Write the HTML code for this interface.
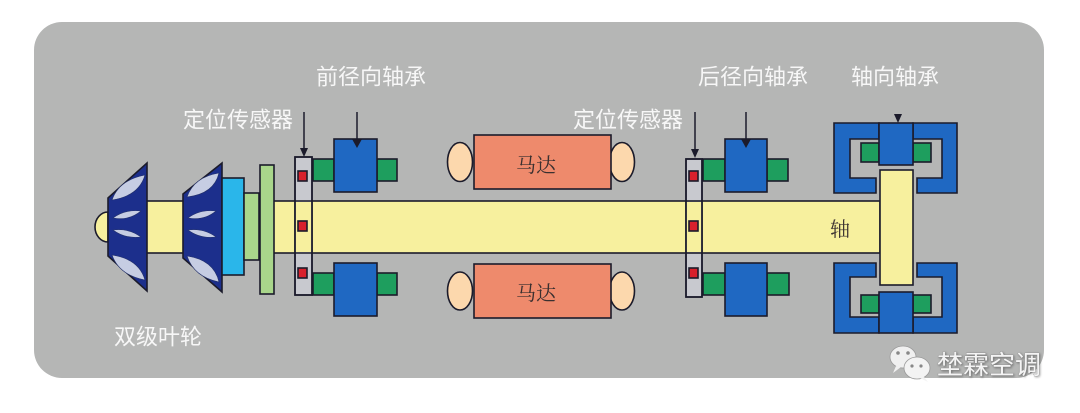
<!DOCTYPE html>
<html><head><meta charset="utf-8"><style>
html,body{margin:0;padding:0;background:#fff;}
svg{display:block;}
.lbl{font-family:"Liberation Sans","Noto Sans CJK SC",sans-serif;fill:#f7f7f7;font-size:22px;}
.dk{font-family:"Liberation Serif","Noto Serif CJK SC","Noto Sans CJK SC",serif;fill:#3a3030;font-size:20px;}
</style></head><body>
<svg width="1080" height="413" viewBox="0 0 1080 413" xmlns="http://www.w3.org/2000/svg">
<rect x="34" y="22" width="1010" height="356" rx="28" ry="28" fill="#b5b6b5"/>
<g stroke="#1b1b2b" stroke-width="1.6" stroke-linejoin="miter">
<rect x="140" y="201" width="740" height="52" fill="#f7f09e"/>
<path d="M108,212 A13,15 0 0 0 108,242 Z" fill="#f7f09e"/>
<polygon points="108,198 147,163 147,291 108,256" fill="#1c2f8c"/>
<polygon points="183,194 222,163 222,292 183,258" fill="#1c2f8c"/>
</g>
<g fill="#c6cde3" stroke="#22306a" stroke-width="0.6">
<path d="M112,200 Q119,180 145,175 Q139,196 112,200 Z"/>
<path d="M113,218 Q125,209 141,211 Q129,221 113,218 Z"/>
<path d="M113,230 Q129,228 141,237 Q125,239 113,230 Z"/>
<path d="M112,255 Q139,259 145,280 Q119,275 112,255 Z"/>
<path d="M187,197 Q194,177 219,173 Q214,194 187,197 Z"/>
<path d="M188,218 Q200,209 216,211 Q204,221 188,218 Z"/>
<path d="M188,230 Q204,228 216,237 Q200,239 188,230 Z"/>
<path d="M187,256 Q214,260 219,282 Q194,277 187,256 Z"/>
</g>
<g stroke="#1b1b2b" stroke-width="1.6">
<rect x="222" y="178" width="22" height="97" fill="#2ab6ea"/>
<rect x="244" y="193" width="15" height="67" fill="#a9d68b"/>
<rect x="260" y="165" width="14" height="129" fill="#a9d68b"/>
<rect x="295" y="157" width="17" height="138" fill="#c8c9cf"/>
<rect x="295.8" y="202" width="15.4" height="50" fill="#f7f09e" stroke="none"/>
<line x1="295" y1="201" x2="312" y2="201"/>
<line x1="295" y1="253" x2="312" y2="253"/>
<rect x="295" y="157" width="17" height="138" fill="none"/>
<rect x="298" y="171" width="9" height="10" fill="#d8202c"/>
<rect x="298" y="221" width="9" height="10" fill="#d8202c"/>
<rect x="298" y="268" width="9" height="10" fill="#d8202c"/>
<rect x="313" y="159" width="21" height="22" fill="#1e9e5e"/>
<rect x="377" y="159" width="20" height="22" fill="#1e9e5e"/>
<rect x="334" y="139" width="43" height="53" fill="#1f68c2"/>
<rect x="313" y="273" width="21" height="22" fill="#1e9e5e"/>
<rect x="377" y="273" width="20" height="22" fill="#1e9e5e"/>
<rect x="334" y="263" width="43" height="53" fill="#1f68c2"/>
<ellipse cx="460" cy="162" rx="12.5" ry="19.5" fill="#fcd8ad"/>
<ellipse cx="622" cy="162" rx="12.5" ry="19.5" fill="#fcd8ad"/>
<rect x="474" y="135" width="137" height="54" fill="#ee8a6c"/>
<ellipse cx="460" cy="291" rx="12.5" ry="19" fill="#fcd8ad"/>
<ellipse cx="622" cy="291" rx="12.5" ry="19" fill="#fcd8ad"/>
<rect x="474" y="264" width="137" height="54" fill="#ee8a6c"/>
<rect x="686" y="159" width="16" height="138" fill="#c8c9cf"/>
<rect x="686.8" y="202" width="14.4" height="50" fill="#f7f09e" stroke="none"/>
<line x1="686" y1="201" x2="702" y2="201"/>
<line x1="686" y1="253" x2="702" y2="253"/>
<rect x="686" y="159" width="16" height="138" fill="none"/>
<rect x="689" y="171" width="9" height="10" fill="#d8202c"/>
<rect x="689" y="221" width="9" height="10" fill="#d8202c"/>
<rect x="689" y="268" width="9" height="10" fill="#d8202c"/>
<rect x="703" y="159" width="22" height="22" fill="#1e9e5e"/>
<rect x="767" y="159" width="21" height="22" fill="#1e9e5e"/>
<rect x="725" y="139" width="42" height="53" fill="#1f68c2"/>
<rect x="703" y="273" width="22" height="22" fill="#1e9e5e"/>
<rect x="767" y="273" width="22" height="22" fill="#1e9e5e"/>
<rect x="725" y="263" width="42" height="53" fill="#1f68c2"/>
<path d="M834,123 H879 V139 H850 V178 H876 V193 H834 Z" fill="#1f68c2"/>
<path d="M957,123 H913 V139 H942 V178 H917 V193 H957 Z" fill="#1f68c2"/>
<path d="M834,333 H879 V317 H850 V277 H876 V263 H834 Z" fill="#1f68c2"/>
<path d="M957,333 H913 V317 H942 V277 H917 V263 H957 Z" fill="#1f68c2"/>
<rect x="861" y="143" width="18" height="19" fill="#1e9e5e"/>
<rect x="913" y="143" width="18" height="19" fill="#1e9e5e"/>
<rect x="861" y="295" width="18" height="18" fill="#1e9e5e"/>
<rect x="913" y="295" width="18" height="18" fill="#1e9e5e"/>
<rect x="879" y="123" width="34" height="42" fill="#1f68c2"/>
<rect x="879" y="292" width="34" height="41" fill="#1f68c2"/>
<rect x="880" y="170" width="33" height="115" fill="#f7f09e"/>
</g>
<g stroke="#1b1b2b" stroke-width="1.5" fill="#1b1b2b">
<line x1="304" y1="112" x2="304" y2="150"/>
<polygon points="300,148 308,148 304,157" stroke="none"/>
<line x1="357" y1="112" x2="357" y2="141"/>
<polygon points="352,139 362,139 357,148" stroke="none"/>
<line x1="695" y1="112" x2="695" y2="151"/>
<polygon points="691,149 699,149 695,158" stroke="none"/>
<line x1="746" y1="112" x2="746" y2="141"/>
<polygon points="741,139 751,139 746,148" stroke="none"/>
<polygon points="894,114 902,114 898,123" stroke="none"/>
</g>
<text class="lbl" x="238" y="120" text-anchor="middle" dominant-baseline="central">定位传感器</text>
<text class="lbl" x="371" y="77" text-anchor="middle" dominant-baseline="central">前径向轴承</text>
<text class="lbl" x="628" y="120" text-anchor="middle" dominant-baseline="central">定位传感器</text>
<text class="lbl" x="753" y="77" text-anchor="middle" dominant-baseline="central">后径向轴承</text>
<text class="lbl" x="895" y="77" text-anchor="middle" dominant-baseline="central">轴向轴承</text>
<text class="lbl" x="158" y="337" text-anchor="middle" dominant-baseline="central">双级叶轮</text>
<text class="dk" x="536" y="166" text-anchor="middle" dominant-baseline="central">马达</text>
<text class="dk" x="536" y="294" text-anchor="middle" dominant-baseline="central">马达</text>
<text class="dk" x="840" y="230" text-anchor="middle" dominant-baseline="central">轴</text>
<g>
<ellipse cx="903" cy="357" rx="13" ry="11" fill="#f0f0f0" stroke="#9a9a9a" stroke-width="0.8"/>
<path d="M896,366 L893,373 L901,367 Z" fill="#f0f0f0"/>
<ellipse cx="917" cy="368" rx="13" ry="11" fill="#f3f3f3" stroke="#9a9a9a" stroke-width="0.8"/>
<path d="M924,377 L928,382 L920,378 Z" fill="#f3f3f3"/>
<circle cx="898" cy="353" r="1.8" fill="#888"/>
<circle cx="908" cy="353" r="1.8" fill="#888"/>
<circle cx="912" cy="366" r="1.6" fill="#888"/>
<circle cx="921" cy="366" r="1.6" fill="#888"/>
<text x="989" y="365" text-anchor="middle" dominant-baseline="central" style="font-family:'Liberation Sans','Noto Sans CJK SC',sans-serif;font-size:26px;fill:#f4f4f4;stroke:#8a8a8a;stroke-width:0.6;paint-order:stroke;filter:drop-shadow(1px 1px 1px rgba(0,0,0,0.35));">埜霖空调</text>
</g>
</svg>
</body></html>
